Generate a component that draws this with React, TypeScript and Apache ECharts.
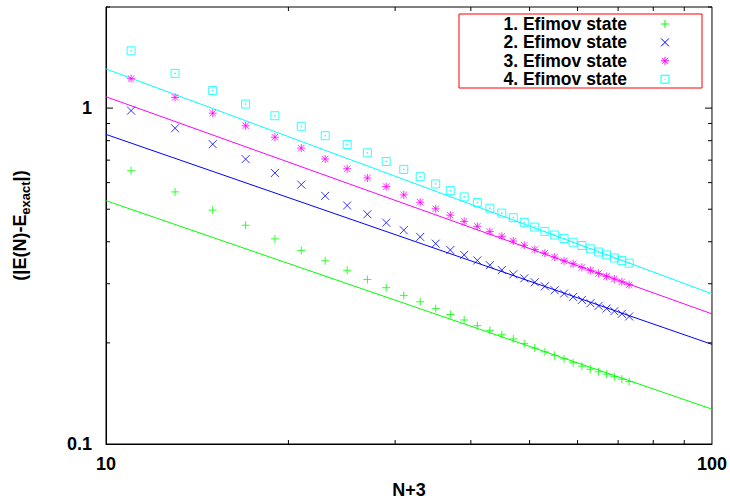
import React, { useEffect, useRef } from 'react';
import * as echarts from 'echarts';

// N+3 values of the computed points
const nPlus3 = [11, 13, 15, 17, 19, 21, 23, 25, 27, 29, 31, 33, 35, 37, 39, 41, 43, 45, 47, 49, 51, 53, 55, 57, 59, 61, 63, 65, 67, 69, 71, 73];

// |E(N) - E_exact| for each Efimov state
const state1 = [0.651, 0.563, 0.497, 0.448, 0.408, 0.377, 0.351, 0.329, 0.309, 0.292, 0.277, 0.265, 0.253, 0.243, 0.234, 0.225, 0.218, 0.2115, 0.2055, 0.199, 0.193, 0.188, 0.1837, 0.1793, 0.1745, 0.1705, 0.167, 0.164, 0.1614, 0.1586, 0.156, 0.1533];
const state2 = [0.983, 0.871, 0.781, 0.705, 0.641, 0.592, 0.548, 0.513, 0.483, 0.456, 0.433, 0.4135, 0.395, 0.378, 0.3656, 0.352, 0.3407, 0.3295, 0.32, 0.3113, 0.303, 0.2948, 0.287, 0.2804, 0.274, 0.2685, 0.2625, 0.2577, 0.2531, 0.2486, 0.244, 0.2397];
const state3 = [1.224, 1.076, 0.966, 0.886, 0.819, 0.76, 0.7056, 0.66, 0.6194, 0.584, 0.5515, 0.5245, 0.5015, 0.48, 0.46, 0.4446, 0.4288, 0.4153, 0.402, 0.3905, 0.3793, 0.37, 0.36, 0.351, 0.344, 0.3355, 0.3288, 0.322, 0.3155, 0.31, 0.304, 0.298];
const state4 = [1.481, 1.269, 1.128, 1.028, 0.949, 0.883, 0.8277, 0.779, 0.736, 0.6937, 0.657, 0.625, 0.5947, 0.568, 0.5441, 0.5234, 0.5036, 0.4868, 0.4718, 0.4569, 0.4425, 0.4296, 0.419, 0.4088, 0.3987, 0.3898, 0.381, 0.373, 0.3656, 0.358, 0.352, 0.3455];

// Power-law fit lines, evaluated at the ends of the x range
const fitX = [10, 100];
const fit1 = [0.53, 0.127];
const fit2 = [0.835, 0.198];
const fit3 = [1.081, 0.244];
const fit4 = [1.308, 0.28];

const seriesNames = ['1. Efimov state', '2. Efimov state', '3. Efimov state', '4. Efimov state'];

const xRange = [10, 100];
const yRange = [0.1, 2];
const xTickLabels = [10, 100];
const yTickLabels = [0.1, 1];
const xMinorTicks = [20, 30, 40, 50, 60, 70, 80, 90];
const yMinorTicks = [0.2, 0.3, 0.4, 0.5, 0.6, 0.7, 0.8, 0.9, 2];
const yMajorTicks = [1];

const COLORS = ['#00ff00', '#0000ff', '#ff00ff', '#00ffff'];
const KINDS = ['plus', 'cross', 'star', 'square'];
const SYMBOLS: Record<string, string> = {
  plus: 'path://M5,0L5,10M0,5L10,5',
  cross: 'path://M0,0L10,10M0,10L10,0',
  star: 'path://M5,0L5,10M0,5L10,5M1,1L9,9M1,9L9,1',
  square: 'path://M0,0L10,0L10,10L0,10ZM4.5,4.5L5.5,4.5L5.5,5.5L4.5,5.5Z',
};

const FONT = 'Liberation Sans, Arial, Helvetica, sans-serif';

function markerGraphic(kind: string, cx: number, cy: number, color: string, h: number) {
  const st = { stroke: color, lineWidth: 1, fill: 'none' };
  const ln = (x1: number, y1: number, x2: number, y2: number) => ({
    type: 'line',
    shape: { x1, y1, x2, y2 },
    style: st,
  });
  if (kind === 'plus') return [ln(cx - h, cy, cx + h, cy), ln(cx, cy - h, cx, cy + h)];
  if (kind === 'cross') return [ln(cx - h, cy - h, cx + h, cy + h), ln(cx - h, cy + h, cx + h, cy - h)];
  if (kind === 'star')
    return [
      ln(cx - h, cy, cx + h, cy),
      ln(cx, cy - h, cx, cy + h),
      ln(cx - h + 1, cy - h + 1, cx + h - 1, cy + h - 1),
      ln(cx - h + 1, cy + h - 1, cx + h - 1, cy - h + 1),
    ];
  return [
    { type: 'rect', shape: { x: cx - h, y: cy - h, width: 2 * h, height: 2 * h }, style: st },
    { type: 'rect', shape: { x: cx - 0.5, y: cy - 0.5, width: 1, height: 1 }, style: { fill: color } },
  ];
}

export default function App() {
  const ref = useRef<HTMLDivElement>(null);

  useEffect(() => {
    if (!ref.current) return;
    const chart = echarts.init(ref.current, undefined, { renderer: 'svg' });

    const values = [state1, state2, state3, state4];
    const fits = [fit1, fit2, fit3, fit4];

    const isIn = (arr: number[], v: number) => arr.some((a) => Math.abs(a - v) < 1e-9 * Math.max(1, a));

    const labelStyle = {
      fontFamily: FONT,
      fontWeight: 'bold' as const,
      fontSize: 18,
      color: '#000',
    };

    const fitSeries = fits.map((f, i) => ({
      type: 'line',
      name: seriesNames[i] + ' fit',
      data: fitX.map((x, j) => [x, f[j]]),
      showSymbol: false,
      symbol: 'none',
      lineStyle: { color: COLORS[i], width: 1 },
      silent: true,
      z: 2,
    }));

    const pointSeries = values.map((v, i) => ({
      type: 'scatter',
      name: seriesNames[i],
      data: nPlus3.map((x, j) => [x, v[j]]),
      symbol: SYMBOLS[KINDS[i]],
      symbolSize: 8,
      itemStyle: { color: 'rgba(0,0,0,0)', borderColor: COLORS[i], borderWidth: 1 },
      z: 3,
    }));

    const tickLine = (x1: number, y1: number, x2: number, y2: number) => ({
      type: 'line',
      shape: { x1, y1, x2, y2 },
      style: { stroke: '#000', lineWidth: 1 },
    });

    const xTickSeries = {
      type: 'custom',
      silent: true,
      data: xMinorTicks.map((v) => [v, yRange[0]]),
      renderItem: (params: any, api: any) => {
        const p = api.coord([api.value(0), api.value(1)]);
        const cs = params.coordSys;
        const len = 4;
        return {
          type: 'group',
          children: [
            tickLine(p[0], cs.y + cs.height, p[0], cs.y + cs.height - len),
            tickLine(p[0], cs.y, p[0], cs.y + len),
          ],
        };
      },
      z: 5,
    };

    const yTickSeries = (ticks: number[], len: number) => ({
      type: 'custom',
      silent: true,
      data: ticks.map((v) => [xRange[0], v]),
      renderItem: (params: any, api: any) => {
        const p = api.coord([api.value(0), api.value(1)]);
        const cs = params.coordSys;
        return {
          type: 'group',
          children: [
            tickLine(cs.x, p[1], cs.x + len, p[1]),
            tickLine(cs.x + cs.width, p[1], cs.x + cs.width - len, p[1]),
          ],
        };
      },
      z: 5,
    });

    // Legend (drawn as graphic: text right-aligned, marker to the right)
    const legendLeft = 459;
    const legendTop = 14;
    const legendW = 243;
    const legendH = 74;
    const rowTop = 24;
    const rowGap = 18.4;
    const textRight = 627;
    const markerX = 665;
    const legendChildren: any[] = [
      {
        type: 'rect',
        shape: { x: legendLeft, y: legendTop, width: legendW, height: legendH },
        style: { fill: '#fff', stroke: '#ff0000', lineWidth: 1 },
      },
    ];
    seriesNames.forEach((name, i) => {
      const cy = rowTop + i * rowGap;
      legendChildren.push({
        type: 'text',
        style: {
          text: name,
          x: textRight,
          y: cy,
          align: 'right',
          verticalAlign: 'middle',
          font: `bold 17.5px ${FONT}`,
          lineHeight: 17,
          fill: '#000',
        },
      });
      legendChildren.push(...markerGraphic(KINDS[i], markerX, cy, COLORS[i], 4));
    });

    chart.setOption({
      animation: false,
      backgroundColor: '#fff',
      grid: {
        left: 97,
        right: 18,
        top: 7,
        bottom: 56.5,
        show: true,
        borderColor: '#000',
        borderWidth: 1,
        backgroundColor: 'transparent',
      },
      xAxis: {
        type: 'log',
        logBase: 10,
        min: xRange[0],
        max: xRange[1],
        name: 'N+3',
        nameLocation: 'middle',
        nameGap: 37,
        nameTextStyle: labelStyle,
        axisLine: { show: true, lineStyle: { color: '#000', width: 1 } },
        axisTick: { show: false },
        splitLine: { show: false },
        axisLabel: {
          ...labelStyle,
          margin: 11,
          formatter: (v: number) => (isIn(xTickLabels, v) ? String(v) : ''),
        },
      },
      yAxis: {
        type: 'log',
        logBase: 10,
        min: yRange[0],
        max: yRange[1],
        name: '(|E(N)-E{sub|exact}|)',
        nameLocation: 'middle',
        nameRotate: 90,
        nameGap: 74,
        nameTextStyle: {
          ...labelStyle,
          lineHeight: 24,
          rich: {
            sub: {
              fontFamily: FONT,
              fontWeight: 'bold',
              fontSize: 13,
              lineHeight: 13,
              verticalAlign: 'bottom',
              color: '#000',
            },
          },
        },
        axisLine: { show: true, lineStyle: { color: '#000', width: 1 } },
        axisTick: { show: false },
        splitLine: { show: false },
        axisLabel: {
          ...labelStyle,
          margin: 14,
          formatter: (v: number) => (isIn(yTickLabels, v) ? String(v) : ''),
        },
      },
      graphic: [{ type: 'group', children: legendChildren, z: 100 }],
      series: [
        ...fitSeries,
        ...pointSeries,
        xTickSeries,
        yTickSeries(yMinorTicks, 4),
        yTickSeries(yMajorTicks, 7),
      ],
    });

    return () => chart.dispose();
  }, []);

  return (
    <div
      ref={ref}
      style={{ position: 'fixed', left: 0, top: 0, width: 730, height: 504, background: '#fff' }}
    />
  );
}
